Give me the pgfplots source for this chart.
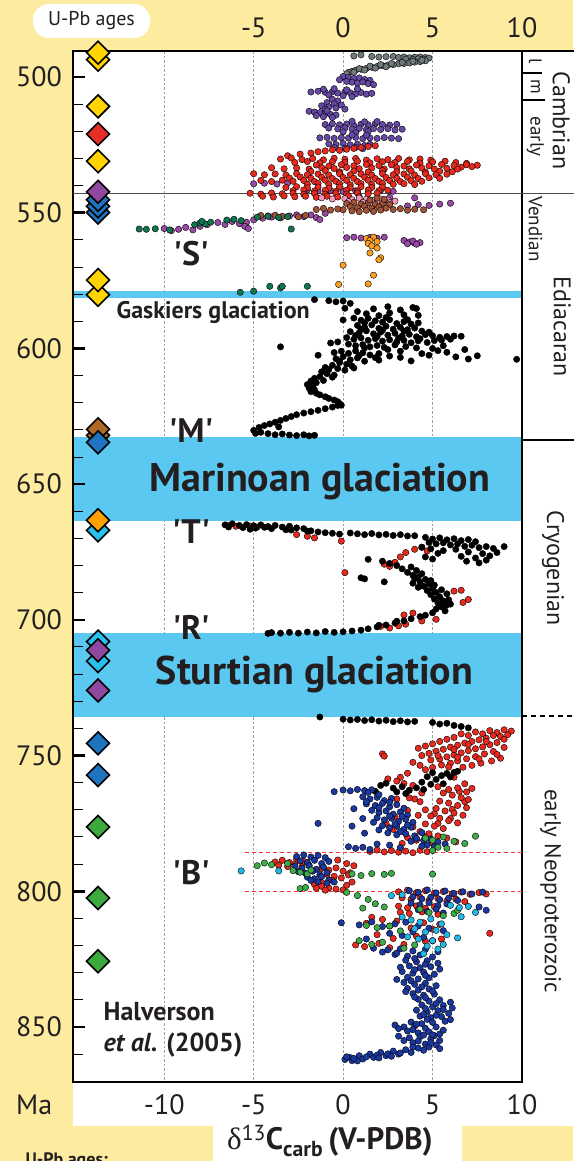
\documentclass[border=0pt]{standalone}
\usepackage{pgfplots}
\pgfplotsset{compat=1.18}
\usepackage{fontspec}
\setmainfont{PT Sans}[Ligatures=TeXOff]
\newfontfamily\greekserif{Liberation Serif}
\newcommand\fs[1]{\fontsize{#1}{#1}\selectfont}
\definecolor{bgyellow}{RGB}{253,236,160}
\definecolor{glac}{RGB}{90,200,240}
\definecolor{cgray}{RGB}{112,122,122}
\definecolor{cviolet}{RGB}{102,72,165}
\definecolor{cred}{RGB}{232,42,30}
\definecolor{cmag}{RGB}{152,72,165}
\definecolor{cpink}{RGB}{242,152,192}
\definecolor{cbrown}{RGB}{162,82,52}
\definecolor{cdgreen}{RGB}{16,118,78}
\definecolor{corange}{RGB}{250,160,30}
\definecolor{cblue}{RGB}{26,56,160}
\definecolor{cgreen}{RGB}{60,172,72}
\definecolor{ccyan}{RGB}{32,184,232}
\definecolor{dyellow}{RGB}{255,212,0}
\definecolor{dred}{RGB}{230,45,40}
\definecolor{dpurple}{RGB}{142,72,160}
\definecolor{dblue}{RGB}{30,116,192}
\definecolor{dcyan}{RGB}{40,192,236}
\definecolor{dbrown}{RGB}{176,104,40}
\definecolor{dorange}{RGB}{255,160,0}
\definecolor{dgreen}{RGB}{60,170,60}
\definecolor{txt}{RGB}{35,31,32}
\pgfplotsset{
 panel/.style={at={(73pt,-51pt)}, anchor=north west, scale only axis,
   width=449pt, height=1031pt, xmin=-15.1, xmax=10, ymin=490.4, ymax=870.3,
   y dir=reverse, clip=false},
 dots/.style={only marks, mark=*, mark size=3.2pt, mark options={draw=none, fill=#1}},
 dia/.style={only marks, mark=square*, mark size=8.1pt, mark options={rotate=45, fill=#1, draw=black, line width=1.6pt}},
}
\begin{document}
\begin{tikzpicture}[x=1pt,y=1pt]
\useasboundingbox (0,0) rectangle (573,-1161);
\fill[bgyellow] (0,0) rectangle (573,-1161);
\fill[white] (73,-51) rectangle (573,-1126);
\fill[white] (213,-1126) rectangle (462,-1161);
\fill[white, rounded corners=16pt] (33,-4) rectangle (150,-38);
\node[font=\fs{20}, text=txt] at (91.5,-21) {U-Pb ages};

% ---------- background axis: grid and glaciation bands ----------
\begin{axis}[panel, hide axis]
 \draw[gray!75, line width=0.8pt, dash pattern=on 2.5pt off 2pt] (axis cs:-10,490.4) -- (axis cs:-10,870.3);
 \draw[gray!75, line width=0.8pt, dash pattern=on 2.5pt off 2pt] (axis cs:-5,490.4) -- (axis cs:-5,870.3);
 \draw[gray!75, line width=0.8pt, dash pattern=on 2.5pt off 2pt] (axis cs:0,490.4) -- (axis cs:0,870.3);
 \draw[gray!75, line width=0.8pt, dash pattern=on 2.5pt off 2pt] (axis cs:5,490.4) -- (axis cs:5,870.3);
 \fill[glac] (axis cs:-15.1,578.9) rectangle (axis cs:10,581.3);
 \fill[glac] (axis cs:-15.1,632.6) rectangle (axis cs:10,663.6);
 \fill[glac] (axis cs:-15.1,704.9) rectangle (axis cs:10,735.8);
\end{axis}

% ---------- main axis ----------
\begin{axis}[panel,
 axis line style={line width=2.2pt, black},
 xtick=\empty,
 ytick={500,550,600,650,700,750,800,850},
 minor ytick={510,520,530,540,560,570,580,590,610,620,630,640,660,670,680,690,710,720,730,740,760,770,780,790,810,820,830,840,860},
 ytick pos=left, tick align=inside,
 major tick length=12pt, minor tick length=10pt,
 major tick style={line width=2.6pt, black},
 minor tick style={line width=1pt, black},
 yticklabel={\pgfmathparse{int(\tick)}\pgfmathresult},
 yticklabel style={font=\fs{28}, text=txt, inner sep=0pt, anchor=east, xshift=-11pt},
]
% red dashed lines
\draw[red!80, line width=1pt, dash pattern=on 4pt off 3pt] (axis cs:-5.5,785.6) -- (axis cs:10,785.6);
\draw[red!80, line width=1pt, dash pattern=on 4pt off 3pt] (axis cs:-5.5,800) -- (axis cs:10,800);

% gray (late / middle Cambrian)
\addplot[dots=cgray] coordinates {(0.6,492.2) (1.0,491.8) (1.6,492.4) (2.0,492.6) (2.4,492.5) (2.8,492.4) (3.1,492.8) (3.4,492.6) (3.7,492.9) (4.0,492.7) (4.3,492.6) (4.6,492.8) (4.8,493.0) (4.5,493.4) (4.2,493.3) (3.9,493.5) (3.5,493.4) (4.6,494.0) (4.3,494.3) (4.0,494.5) (3.7,494.8) (3.4,495.0) (3.1,495.1) (2.8,495.4) (2.5,495.6) (2.2,495.8) (1.9,496.1) (1.6,496.4) (1.3,496.8) (1.0,497.1) (0.7,497.5) (0.5,497.9) (0.3,498.3) (0.2,498.8) (0.9,496.9) (1.5,496.0) (2.1,495.4) (2.7,495.0) (3.3,494.6) (3.9,494.2) (4.4,493.8) (2.4,496.2) (1.8,496.7) (1.2,497.4) (0.6,498.2)};
% violet (Cambrian)
\addplot[dots=cviolet] coordinates {(0.0,499.8) (0.3,500.2) (0.6,500.5) (0.9,500.3) (1.2,500.9) (1.5,501.2) (-0.2,501.0) (0.2,501.6) (0.5,501.9) (0.8,502.2) (1.1,501.8) (1.4,502.4) (1.7,502.8) (-1.8,505.5) (-1.4,505.2) (-1.0,505.6) (-0.6,505.4) (-0.3,505.9) (0.1,505.5) (0.4,505.8) (0.7,506.2) (1.0,505.7) (1.3,506.3) (1.6,506.0) (-1.1,504.5) (-0.5,504.3) (0.2,504.7) (0.8,504.4) (-0.8,506.6) (0.0,506.9) (0.5,507.2) (-0.6,508.2) (-0.3,508.8) (-0.9,509.4) (-0.5,509.9) (-0.1,510.3) (-1.2,510.6) (-0.8,511.0) (-0.4,511.4) (0.1,511.8) (-1.0,511.9) (-1.9,512.6) (-1.6,512.9) (-1.3,513.1) (-1.0,513.5) (-0.7,513.8) (-0.4,514.0) (-1.5,514.2) (-1.1,514.6) (-0.6,514.9) (-0.9,512.4) (-1.0,517.5) (-0.6,517.2) (-0.2,517.6) (0.2,517.3) (0.6,517.8) (1.0,517.4) (1.4,517.6) (1.8,517.2) (2.2,517.5) (2.6,517.7) (3.0,517.4) (0.5,516.3) (1.2,516.5) (1.9,516.4) (-0.8,518.8) (-0.3,519.1) (0.1,518.7) (0.5,519.2) (0.9,518.9) (1.3,519.4) (1.7,519.0) (2.1,519.3) (2.5,519.0) (2.9,519.5) (3.3,519.2) (0.0,520.2) (0.7,520.5) (1.4,520.1) (-1.3,522.4) (-0.9,522.2) (-0.5,522.6) (-0.1,522.3) (0.3,522.5) (0.7,522.2) (1.1,522.7) (1.5,522.4) (1.9,522.6) (2.3,522.3) (2.7,522.5) (3.1,522.7) (0.5,521.3) (1.3,521.4) (-0.8,524.6) (-0.4,524.9) (0.0,524.5) (0.4,525.0) (0.8,524.7) (1.2,525.2) (1.5,524.8) (-0.5,526.0) (0.1,526.2) (0.7,525.9) (1.1,526.4)};
% magenta (latest Ediacaran)
\addplot[dots=cmag] coordinates {(-5.0,539.3) (-4.4,539.1) (-3.7,539.4) (-3.1,539.0) (-2.0,541.6) (-1.4,542.0) (-0.7,541.8) (0.0,542.2) (0.7,541.9) (1.4,542.3) (2.1,541.7) (2.8,542.1) (3.6,547.5) (4.2,547.0) (4.8,547.3) (5.4,546.8) (6.0,546.5) (4.0,544.5) (2.6,544.3) (-1.8,550.8) (-1.5,551.8) (-1.0,550.2) (-1.3,552.5) (-10.0,555.8) (-9.6,556.6) (-9.2,556.1) (-8.8,555.4) (-8.4,556.3) (-8.0,555.0) (-7.6,554.4) (-7.0,553.6) (-6.6,554.3) (-6.2,553.2) (-5.8,554.0) (-5.4,553.5) (-5.0,552.6) (-4.5,552.0) (-4.0,551.6) (-3.5,551.9) (-3.0,551.2) (-2.6,550.8) (-2.2,551.4) (-5.5,555.0) (-5.3,555.8) (0.2,559.2) (0.6,559.0) (1.0,559.3) (1.5,559.1) (1.9,559.4) (2.3,559.0) (3.4,560.2) (3.7,560.8) (4.0,561.2) (4.3,561.0) (3.9,560.4) (4.1,561.6) (3.6,561.4)};
% red (early Cambrian)
\addplot[dots=cred] coordinates {(-3.1,529.0) (-2.4,528.4) (-1.8,528.0) (-1.4,527.5) (-1.0,527.2) (-0.6,526.8) (-0.2,527.0) (0.2,526.6) (0.6,526.3) (1.0,526.0) (1.4,525.6) (1.8,525.3)
(-3.5,530.2) (-2.9,529.8) (-2.3,530.4) (-1.7,530.0) (-1.1,530.5) (-0.5,529.9) (0.1,530.3) (0.7,530.0) (1.3,530.6) (1.9,530.1) (2.5,530.4) (3.1,530.0) (3.7,530.5) (4.3,530.2) (4.9,530.6)
(-2.7,531.5) (-2.0,531.1) (-1.3,531.6) (-0.6,531.2) (0.1,531.4) (0.8,531.0) (1.5,531.6) (2.2,531.2) (2.9,531.5) (3.6,531.1) (4.3,531.7) (5.0,531.3) (5.7,531.0) (6.3,531.5) (6.9,531.8)
(-1.5,532.4) (-0.8,532.8) (-0.1,532.3) (0.6,532.7) (1.3,532.2) (2.0,532.6) (2.7,532.3) (3.4,532.8) (4.1,532.4) (4.8,532.7) (5.5,532.2) (6.2,532.6) (6.9,532.3) (7.5,532.5) (7.2,533.0) (6.6,533.2)
(-4.0,533.4) (-3.3,533.8) (-2.6,533.5) (-1.9,533.9) (-1.2,533.4) (-0.5,533.7) (0.2,533.3) (0.9,533.8) (1.6,533.5) (2.3,533.9) (3.0,533.4) (3.7,533.8) (4.4,533.5) (5.1,533.9) (5.8,533.6) (6.4,533.9)
(-1.8,534.8) (-1.0,534.5) (-0.2,534.9) (0.6,534.6) (1.4,535.0) (2.2,534.5) (3.0,534.9) (3.8,534.6) (4.6,535.0) (5.4,534.7) (6.1,534.9)
(-5.0,535.6) (-4.4,536.0) (-3.8,535.7) (-3.2,536.1) (-2.6,535.6) (-2.0,536.0) (-1.4,535.7) (-0.8,536.1) (-0.2,535.6) (0.4,536.0) (1.0,535.7) (1.6,536.1) (2.2,535.6) (2.8,536.0) (3.4,535.7) (4.0,536.1) (4.6,535.6) (5.2,536.0) (5.8,535.8)
(-3.0,537.2) (-2.4,536.8) (-1.8,537.3) (-1.2,536.9) (-0.6,537.4) (0.0,537.0) (0.6,537.3) (1.2,536.9) (1.8,537.4) (2.4,537.0) (3.0,537.3) (3.6,536.9) (4.2,537.4) (4.8,537.1) (5.4,537.3)
(-4.6,538.1) (-4.0,538.5) (-3.4,538.0) (-2.8,538.4) (-2.2,538.1) (-1.6,538.5) (-1.0,538.0) (-0.4,538.4) (0.2,538.1) (0.8,538.5) (1.4,538.0) (2.0,538.4) (2.6,538.1) (3.2,538.5) (3.8,538.2) (4.4,538.4)
(-2.0,539.5) (-1.4,539.2) (-0.8,539.6) (-0.2,539.3) (0.4,539.7) (1.0,539.3) (1.6,539.6) (2.2,539.2) (2.8,539.5) (3.4,539.3) (4.0,539.6)
(-3.2,540.7) (-2.6,540.4) (-2.0,540.8) (-1.4,540.5) (-0.8,540.9) (-0.2,540.5) (0.4,540.8) (1.0,540.4) (1.6,540.7) (2.2,540.5)
(-2.8,541.9) (-2.2,541.6) (-1.6,542.0) (-1.0,541.7) (-0.4,542.1) (0.2,541.7) (0.8,542.0) (1.4,541.6) (2.0,541.9) (2.5,541.7)
(-5.2,542.8) (-4.6,543.1) (-4.0,542.7) (-3.4,543.0) (-2.8,542.8) (-2.2,543.2) (-1.6,542.9) (-1.0,543.2) (-0.4,542.8) (0.2,543.1) (0.8,542.7) (1.4,543.0) (1.9,542.8)
(-4.5,543.9) (-3.9,544.2) (-3.3,543.8) (-2.7,544.1) (-2.1,543.9) (-1.5,544.3) (-0.9,543.9) (-0.3,544.2) (0.3,543.8) (0.9,544.1)};
% pink
\addplot[dots=cpink] coordinates {(0.1,544.8) (0.5,545.2) (0.9,544.6) (1.3,545.0) (1.7,545.4) (2.1,544.9) (2.5,545.3) (2.9,545.7) (0.3,545.9) (1.1,546.2) (1.9,546.0) (2.6,546.3) (-1.2,544.5) (-0.6,544.9)};
% brown
\addplot[dots=cbrown] coordinates {(0.2,546.6) (0.6,546.2) (1.0,546.8) (1.4,546.4) (1.8,547.0) (2.2,546.5) (2.6,546.9) (0.4,547.8) (0.8,548.2) (1.2,547.6) (1.6,548.4) (2.0,547.9) (2.4,548.3) (0.0,548.9) (0.5,549.3) (0.9,549.6) (1.3,549.1) (1.7,549.5) (2.1,549.0) (1.5,545.3) (1.9,544.6) (2.3,545.1) (-1.5,548.8) (-1.1,548.4) (-0.7,549.0) (-0.3,548.6) (2.8,548.8) (3.2,548.5) (3.6,549.1) (4.0,548.7) (4.5,548.9) (-4.6,551.0) (-4.2,551.2) (-3.8,550.9) (-3.4,551.3) (-2.5,551.5) (-2.1,551.0)};
% dark green
\addplot[dots=cdgreen] coordinates {(-11.4,556.0) (-11.0,556.1) (-10.5,555.9) (-9.7,556.3) (-8.3,554.4) (-8.0,553.8) (-7.7,554.1) (-7.4,553.5) (-7.9,553.2) (-6.5,552.7) (-6.1,552.4) (-5.7,552.9) (-4.8,551.6) (-4.2,551.3) (-3.6,551.7) (-3.1,551.4) (-2.9,556.0) (-5.75,579.3) (-5.0,578.9) (-4.1,577.1) (-3.5,577.7) (-3.4,577.1) (-2.0,577.1)};
% orange
\addplot[dots=corange] coordinates {(1.3,559.5) (1.7,559.0) (1.5,560.2) (1.9,560.6) (1.4,561.3) (1.6,562.2) (1.9,563.0) (1.5,564.8) (2.1,566.6) (2.0,567.3) (0.0,569.3) (1.7,573.0) (1.4,576.2) (-0.25,576.4)};
% black (Ediacaran)
\addplot[dots=black] coordinates {(-1.6,582.0) (-0.8,582.4) (-0.4,582.8) (0.0,582.5) (0.4,583.4) (0.1,585.2) (1.7,585.4) (2.5,584.6) (3.2,585.8) (3.9,584.9) (4.1,585.3) (0.8,586.4) (1.3,587.2) (2.0,587.9) (2.6,586.9) (3.4,587.6) (4.2,587.8) (0.0,589.5)
(0.6,588.8) (1.0,589.6) (1.4,588.9) (1.8,589.8) (2.2,590.3) (2.6,589.4) (3.0,590.8) (3.4,590.1) (3.8,591.0) (4.2,590.6)
(0.8,591.5) (1.2,592.2) (1.6,591.3) (2.0,592.6) (2.4,591.8) (2.8,592.9) (3.2,592.2) (3.6,593.1) (4.0,592.5) (4.4,593.6)
(0.4,593.8) (0.9,594.2) (1.3,593.5) (1.7,594.6) (2.1,594.0) (2.5,595.1) (2.9,594.4) (3.3,595.4) (3.7,594.8) (4.1,595.7) (4.6,594.9) (5.0,595.3) (5.4,595.9) (5.8,595.6) (6.2,595.4) (6.6,595.5)
(0.2,596.0) (0.6,596.6) (1.0,596.1) (1.4,597.0) (1.8,596.4) (2.2,597.3) (2.6,596.8) (3.0,597.6) (3.4,597.0) (3.8,597.9) (4.2,597.2) (4.7,597.8) (5.1,597.1) (5.5,596.9)
(-0.3,597.6) (-0.7,598.0) (0.3,598.4) (0.7,599.0) (1.1,598.6) (1.5,599.4) (1.9,598.9) (2.3,599.6) (2.9,598.7) (3.5,599.3) (4.1,599.8) (5.0,600.0) (5.3,600.8) (5.8,601.4) (6.3,603.1) (7.0,603.9) (7.5,602.7) (9.7,604.0) (-3.5,599.4) (-1.4,602.5)
(-0.5,601.5) (-0.1,601.0) (0.3,601.8) (0.7,600.9) (1.1,601.6) (1.5,602.4) (2.0,601.9) (2.6,602.8) (3.2,603.3) (3.8,604.6) (0.0,603.0) (-0.4,603.8) (0.4,604.2) (0.8,603.5) (1.2,604.7) (-0.2,605.2) (0.2,605.8) (0.5,606.5) (-0.6,606.2) (-1.0,607.0) (-0.8,607.8) (-0.3,607.4) (0.1,608.0) (-1.2,608.6) (-0.9,609.3) (-0.5,609.8) (-1.3,610.4) (-1.6,611.0)
(1.2,590.5) (2.4,588.6) (3.6,589.4) (1.0,592.9) (2.2,593.3) (3.4,593.6) (4.8,594.0) (0.7,595.2) (1.9,595.6) (3.1,596.2) (4.3,596.4) (6.0,596.6) (1.2,599.8) (2.5,600.4) (3.2,601.0) (4.4,601.9) (0.9,602.6) (1.8,603.4) (-0.2,604.6) (0.6,607.2) (-0.6,610.6) (-1.1,611.8) (2.0,604.3) (4.8,602.5) (5.6,599.0) (6.8,600.4)
(-1.8,612.0) (-1.5,612.6) (-2.0,613.3) (-1.7,613.9) (-1.9,614.6) (-1.6,615.2) (-1.8,615.9) (-1.5,616.5) (-1.3,617.1)
(-1.0,617.8) (-0.8,618.4) (-0.5,619.0) (-0.3,619.6) (-0.2,620.3) (-0.3,621.0) (-0.6,621.6) (-1.0,622.2) (-0.1,620.9)
(-1.4,622.8) (-1.8,623.3) (-2.2,623.8) (-2.6,624.4) (-2.9,625.1) (-3.2,625.8) (-3.5,626.5) (-3.8,627.2) (-4.1,627.8) (-4.4,628.4) (-3.6,628.9) (-4.7,629.1) (-5.0,630.2) (-4.6,630.9) (-4.2,631.4) (-3.8,631.8) (-3.4,631.5) (-3.0,631.9) (-2.6,632.1) (-2.2,631.8) (-1.9,632.2) (-1.6,632.0) (-4.9,631.3)};
% red (Cryogenian)
\addplot[dots=cred] coordinates {(-6.5,665.1) (-6.0,665.5) (-5.2,665.4) (-4.8,665.8) (-2.6,668.6) (-2.0,669.2) (-1.6,669.8) (-0.1,671.0) (0.1,682.6) (2.3,679.5) (2.6,680.3) (2.9,678.8) (3.2,676.8) (3.5,675.2) (4.0,674.0) (4.4,673.3) (4.7,674.6) (6.2,689.4) (6.6,689.1) (7.0,692.5) (6.7,693.6) (3.4,698.2) (3.9,697.5) (4.4,700.4) (5.2,699.8) (2.1,702.4) (2.6,703.0) (3.1,702.2) (3.5,701.6)};
% black (Cryogenian)
\addplot[dots=black] coordinates {(-6.6,665.0) (-6.2,664.6) (-5.8,665.2) (-5.4,664.9) (-5.0,665.3) (-4.6,665.0) (-4.2,665.6) (-3.8,665.2) (-3.4,665.8) (-3.0,665.5) (-2.6,666.1) (-2.2,666.4) (-1.8,667.2) (-1.4,667.6) (-1.0,667.9) (-0.6,668.1) (-0.2,668.4) (0.4,668.0) (0.8,668.3) (1.2,668.6) (1.6,668.2) (2.0,668.7) (2.4,668.5) (2.8,668.9) (3.2,668.6) (3.6,669.1) (4.0,669.0) (-5.6,666.0) (-4.9,666.2) (-4.0,666.4) (-3.2,666.8) (-6.4,665.8) (-5.2,666.6) (-4.4,665.9) (-2.9,666.9) (-2.0,667.3)
(4.6,669.6) (5.0,670.2) (5.4,669.8) (5.8,670.5) (6.2,670.1) (6.6,670.8) (7.0,670.4) (7.4,671.2) (4.8,671.5) (5.2,672.0) (5.6,671.6) (6.0,672.4) (6.4,672.0) (6.8,672.9) (7.2,672.5) (7.6,673.4) (8.0,673.0) (8.4,673.7) (9.0,673.0) (4.4,673.2) (4.9,673.8) (5.6,674.5) (6.3,674.0) (7.0,675.0) (7.8,675.6) (8.2,676.4) (8.6,675.2) (5.3,675.5) (6.6,676.6) (7.4,677.2) (8.0,678.0) (7.6,679.0) (6.9,678.4) (4.6,676.8) (5.0,677.6)
(1.4,677.7) (2.2,678.4) (2.6,679.2) (3.0,680.0) (3.3,681.2) (1.0,684.5) (1.2,684.9) (2.3,686.0) (3.6,682.5) (3.9,683.6)
(3.8,680.5) (4.1,681.8) (4.4,683.0) (4.2,684.2) (4.6,685.1) (4.3,686.0) (4.8,686.8) (4.5,687.6) (5.0,688.4) (4.7,689.2) (5.2,689.9) (4.9,690.7) (5.4,691.5) (5.1,692.3) (5.6,693.0) (5.3,693.8) (5.8,694.5) (5.5,695.2) (5.2,696.0) (5.7,696.7) (5.0,697.4) (4.6,698.3) (4.9,685.5) (5.1,687.2) (5.5,688.9) (5.8,690.4) (5.9,692.6) (6.0,694.2) (4.0,684.8) (3.9,686.5) (4.2,688.0)
(4.3,698.8) (3.8,699.6) (3.4,700.4) (2.9,701.2) (2.4,701.9) (1.9,702.6) (1.4,703.3) (1.0,703.8) (0.5,704.1) (0.0,704.4) (-0.5,704.6) (-1.0,704.3) (-1.5,704.8) (-2.0,704.5) (-2.5,704.9) (-3.0,704.6) (-3.5,704.9) (-4.0,704.7) (-4.2,705.0) (3.0,700.5) (2.0,702.0)};
% red (early Neoproterozoic)
\addplot[dots=cred] coordinates {(9.4,741.0) (9.0,740.5) (8.6,741.5) (8.2,740.8) (7.8,742.0) (7.4,741.3) (7.0,742.6) (6.6,742.0) (6.2,743.3) (5.8,744.0) (5.4,744.8) (5.0,745.7) (4.6,746.5) (4.2,747.3) (9.2,742.3) (8.8,743.0) (8.4,742.6) (8.0,743.6) (7.6,744.2) (7.2,744.8) (6.8,745.4) (6.4,746.2) (6.0,746.9) (5.6,747.7) (5.2,748.4) (4.8,749.2) (4.4,750.0) (8.6,745.2) (8.2,746.0) (7.8,746.8) (7.4,747.5) (7.0,748.2) (6.6,749.0) (6.2,749.8) (5.8,750.5) (5.4,751.3) (9.0,747.0) (8.4,748.5) (7.9,749.4) (7.4,750.4) (6.9,751.2) (6.4,752.0) (6.0,752.8) (5.5,753.5) (8.8,751.0) (8.3,752.0) (7.7,752.8) (7.2,753.6) (6.7,754.3) (2.2,749.4) (2.3,750.2) (3.9,752.5) (4.3,753.6) (4.6,755.2) (5.0,754.4) (3.6,756.5) (3.2,758.0)
(9.0,744.0) (8.0,744.8) (7.0,746.0) (6.2,747.8) (5.3,750.0) (4.9,751.6) (8.6,749.6) (7.6,751.2) (6.4,750.6) (5.9,754.2) (6.2,758.0) (6.8,760.4) (6.5,763.2) (6.8,767.0) (6.1,769.8) (6.0,773.2) (5.1,771.4) (5.3,775.0) (4.6,779.8) (5.0,782.2) (4.4,763.8) (4.0,766.0) (4.2,772.0) (3.6,770.2)
(2.5,758.6) (3.0,759.4) (3.4,760.3) (3.9,761.0) (5.3,761.5) (5.9,762.5) (6.4,761.9) (6.9,763.4) (7.2,762.1) (5.6,763.8) (6.1,764.6) (6.6,765.5) (7.0,766.2) (5.4,766.8) (5.9,767.5) (6.4,768.4) (6.9,769.2) (5.2,769.5) (5.7,770.4) (6.2,771.2) (6.7,772.0) (4.9,772.3) (5.4,773.1) (5.9,774.0) (6.4,774.8) (4.6,775.2) (5.1,776.0) (5.6,776.9) (4.3,778.0) (4.8,778.8) (5.3,779.6) (5.8,780.4) (3.6,780.2) (4.1,781.2) (6.3,781.8) (3.3,782.4) (2.8,777.2) (2.4,775.0) (2.9,772.6) (3.7,765.6) (4.3,767.0) (4.6,770.0) (3.9,776.3) (3.4,778.2) (3.0,766.0)
(1.5,785.3) (1.9,784.8) (2.3,785.5) (2.7,785.0) (3.1,785.6) (3.5,785.2) (3.9,785.8) (4.3,784.9) (4.7,785.4)
(-3.8,789.2) (-3.4,788.6) (-3.0,789.4) (-2.6,788.2) (-2.2,789.0) (-3.6,790.4) (-3.1,790.9) (-2.7,790.1) (-2.3,791.0) (-1.9,790.5) (-1.2,791.6) (-0.8,792.2) (-0.4,791.4) (0.0,792.6) (0.4,793.2) (-0.9,793.8) (-0.5,794.5) (-0.1,795.1) (0.3,794.0) (-0.6,796.0) (-1.2,796.8) (-1.6,797.5) (-1.2,798.2) (-0.8,798.8) (-0.4,799.2) (0.0,799.5) (-1.0,799.6) (-1.5,798.9) (0.5,796.6) (0.2,797.8) (-0.3,788.5) (0.2,789.8) (0.6,790.6)
(3.1,800.2) (3.6,799.6) (4.1,800.5) (4.6,799.8) (5.1,800.7) (5.6,800.1) (6.1,800.9) (6.6,800.3) (7.1,801.1) (7.6,800.5) (8.0,801.0) (3.3,802.4) (3.8,803.0) (4.3,802.2) (4.8,803.4) (5.3,802.7) (5.8,803.6) (6.3,802.9) (6.8,803.8) (3.1,805.5) (3.6,806.1) (4.1,805.4) (4.6,806.3) (5.1,805.7) (3.2,807.8) (3.7,808.2) (4.4,807.6) (5.3,808.5) (1.6,809.6) (2.2,810.4) (1.3,811.8) (2.6,812.8) (3.0,811.0) (3.8,813.5) (4.5,811.6) (5.0,814.0) (5.4,812.2) (1.9,816.0) (2.8,817.4) (4.1,816.6) (8.2,815.5) (0.7,819.8) (1.2,820.4) (2.0,819.2) (2.6,820.8) (3.4,819.6) (4.6,818.4) (5.5,817.6)};
% black (early Neoproterozoic)
\addplot[dots=black] coordinates {(-1.3,735.8) (0.0,736.6) (0.4,736.9) (0.8,736.7) (1.2,737.1) (1.6,736.8) (2.0,737.3) (2.4,737.0) (2.8,737.5) (3.2,737.2) (3.6,737.6) (4.0,737.4) (5.0,737.8) (5.4,738.4) (5.8,738.1) (6.2,738.9) (6.6,739.3) (7.0,739.8)
(2.1,761.0) (2.4,760.2) (2.8,762.0) (3.3,761.5) (3.7,762.8) (4.1,761.9) (4.5,762.5) (4.9,760.6) (5.2,758.8) (5.5,757.4) (5.8,756.6) (6.2,756.2) (6.4,755.8) (4.7,757.8) (5.0,756.3) (3.0,763.4) (3.5,764.0) (1.8,763.2) (4.4,759.8) (5.6,760.4) (6.0,757.9)};
% blue
\addplot[dots=cblue] coordinates {(-0.5,763.3) (0.0,762.7) (0.4,763.0) (0.8,762.5) (1.2,762.9) (1.6,762.6) (1.1,765.2) (1.5,766.0) (1.9,765.4) (2.3,766.6) (2.7,765.8) (1.3,767.8) (1.8,768.4) (2.2,767.6) (2.6,768.9) (3.0,768.1) (1.6,770.2) (2.0,771.0) (2.4,770.4) (2.8,771.6) (3.2,770.8) (3.6,771.9) (1.9,772.9) (2.3,773.7) (2.7,773.1) (3.1,774.3) (3.5,773.5) (3.9,774.6) (2.2,775.8) (2.6,776.6) (3.0,776.0) (3.4,777.2) (3.8,776.4) (2.5,778.5) (3.0,779.2) (3.5,778.8) (4.0,779.6) (-1.4,775.0) (0.5,776.0) (4.1,780.5) (4.5,781.2) (4.9,780.8) (5.3,781.9) (5.7,782.6) (4.7,782.9) (5.1,783.6) (0.3,783.6) (0.7,784.2) (1.1,783.8) (1.5,784.6) (1.3,767.0) (0.6,769.6) (1.1,773.2) (1.2,778.6)
(1.4,763.6) (2.0,764.4) (2.6,767.2) (2.0,769.2) (3.4,769.4) (2.6,772.3) (3.3,772.4) (1.7,774.6) (2.9,775.2) (3.6,775.6) (2.0,777.4) (3.2,778.0) (4.4,778.4) (3.8,781.6) (4.4,783.4) (1.9,782.6) (2.6,783.0) (3.2,783.9)
(-2.6,787.2) (-2.2,786.6) (-1.8,787.4) (-1.4,786.8) (-1.0,787.6) (-2.4,788.8) (-2.0,789.4) (-1.6,788.6) (-1.2,789.8) (-0.8,789.0) (-2.7,790.8) (-2.3,791.5) (-1.9,790.6) (-1.5,791.9) (-1.1,791.1) (-2.5,792.8) (-2.1,793.4) (-1.7,792.6) (-1.3,793.9) (-0.9,793.1) (-2.0,794.8) (-1.6,795.4) (-1.2,794.6) (-0.8,795.9) (-1.4,796.5) (-0.9,797.0) (-0.5,796.6) (-1.8,796.0)
(3.7,799.8) (4.2,800.4) (4.7,799.5) (5.2,800.6) (5.7,799.9) (6.2,800.8) (6.7,800.2) (7.2,801.0) (7.8,800.3) (3.9,802.0) (4.4,802.8) (4.9,802.2) (5.4,803.1) (5.9,802.5) (6.4,803.4) (3.8,804.4) (4.3,805.0) (4.8,804.2) (5.3,805.3) (5.8,804.7) (4.2,806.8) (4.7,807.4) (5.2,806.6) (5.6,808.0) (8.0,807.0) (7.6,805.8) (-0.1,811.6) (0.9,812.4) (1.6,811.3) (2.2,813.0) (2.9,812.0) (3.5,811.4) (4.2,812.8) (4.8,813.6) (5.6,814.5) (2.6,815.5) (3.3,816.3) (3.9,815.0) (4.5,817.0) (5.0,818.2) (1.3,817.6)
(1.7,821.0) (2.5,821.6) (3.2,821.2) (3.9,822.0) (4.6,821.4) (5.3,822.3) (2.9,823.3) (3.6,823.9) (4.3,823.5) (5.0,824.2) (3.5,825.4) (4.1,826.0) (4.7,825.6) (5.3,826.5) (3.7,827.5) (4.3,828.2) (4.9,827.8) (5.4,828.7) (3.3,829.6) (3.9,830.2) (4.5,829.8) (5.1,830.6) (3.6,831.7) (4.2,832.3) (4.8,831.9) (3.4,833.6) (4.0,834.3) (4.6,833.9) (5.2,834.8) (3.6,835.8) (4.2,836.4) (4.8,836.0) (3.9,837.7) (4.5,838.3) (5.1,837.9) (4.2,839.8) (4.8,840.5) (5.4,840.0) (6.0,840.9) (4.4,841.9) (5.0,842.6) (5.6,842.1) (6.1,843.0) (4.1,843.8) (4.7,844.5) (5.3,844.0) (5.9,845.0) (4.3,846.0) (4.9,846.6) (5.5,846.2) (6.0,847.3) (3.8,848.2) (4.4,848.8) (5.0,848.3) (2.9,849.3) (3.4,850.0) (4.0,849.6) (4.6,850.5) (5.2,850.0) (3.6,851.5) (4.2,852.2) (4.8,851.8) (5.4,852.6) (3.1,853.4) (3.7,854.0) (4.3,853.6) (4.9,854.4) (5.4,855.0) (3.9,855.8) (4.6,856.3) (5.2,856.6) (4.8,857.4) (5.4,858.0) (4.2,857.8) (3.5,858.4) (2.8,858.9) (2.1,859.4) (1.5,860.0) (0.9,860.6) (0.4,861.3) (0.1,862.0) (0.5,862.4) (1.1,861.8) (1.7,861.2) (2.4,860.6) (3.1,860.0) (3.8,859.4) (0.2,861.0) (0.8,862.5)
(2.2,822.4) (3.0,822.8) (4.0,824.8) (4.6,826.9) (3.2,828.0) (4.0,828.9) (4.6,831.0) (3.0,832.5) (3.8,833.0) (4.4,835.2) (5.0,836.8) (3.5,837.0) (4.0,839.0) (4.6,839.2) (5.2,841.4) (4.6,843.2) (5.6,843.6) (4.5,845.4) (5.2,845.7) (5.7,847.9) (4.7,847.2) (4.1,849.0) (3.1,850.6) (3.9,851.0) (4.5,853.0) (5.1,853.2) (3.4,855.0) (4.2,855.2) (4.9,855.8) (3.9,857.4) (3.2,859.6) (2.5,859.9) (1.9,860.4) (1.3,861.0) (0.6,861.6) (2.0,861.4) (2.7,860.8) (4.5,858.6) (5.0,852.9) (5.6,851.2)};
% green
\addplot[dots=cgreen] coordinates {(4.6,780.4) (5.0,781.2) (5.6,780.0) (6.2,781.6) (6.8,782.4) (7.4,779.7) (5.3,783.8) (5.0,785.0) (5.8,784.2) (-4.8,790.6) (-4.4,789.6) (-4.0,790.2) (-3.1,789.8) (-2.8,792.4) (-2.4,793.0) (-2.0,793.6) (-1.8,792.2) (-2.4,799.0) (-2.1,798.6) (0.5,793.6) (1.0,794.2) (1.6,793.5) (2.3,793.8) (2.7,793.4) (5.0,793.7) (0.2,800.4) (0.8,801.6) (1.4,803.0) (1.8,804.6) (2.3,805.8) (1.1,806.2) (1.3,812.6) (1.9,813.4) (2.6,812.8) (3.2,814.6) (4.3,806.6) (4.8,807.8) (5.6,809.0) (6.2,808.2) (6.4,807.0) (0.9,818.2) (1.6,819.6) (2.2,818.8) (4.0,819.8) (3.4,821.0)};
% cyan
\addplot[dots=ccyan] coordinates {(-5.7,792.5) (-3.6,792.5) (2.7,801.6) (3.3,801.3) (6.0,805.2) (6.5,806.0) (7.0,805.6) (7.4,807.8) (6.6,809.4) (3.3,809.5) (3.8,810.6) (4.3,811.4) (4.9,810.2) (5.5,812.0) (4.0,813.8) (4.6,815.0) (5.2,814.4) (5.8,816.0) (3.6,816.8) (4.2,817.6) (5.0,818.2) (6.4,817.2) (4.7,820.2) (5.6,819.6) (5.3,821.3) (4.5,823.0)};

% Cambrian / Ediacaran boundary line
\draw[black!70, line width=1.4pt] (axis cs:-15.1,543) -- (axis cs:13,543);

% U-Pb age diamonds
\addplot[dia=dyellow] coordinates {(-13.7,493.6)};
\addplot[dia=dyellow] coordinates {(-13.7,491.0)};
\addplot[dia=dyellow] coordinates {(-13.7,510.8)};
\addplot[dia=dred] coordinates {(-13.7,521.0)};
\addplot[dia=dyellow] coordinates {(-13.7,531.0)};
\addplot[dia=dblue] coordinates {(-13.7,549.9)};
\addplot[dia=dblue] coordinates {(-13.7,547.6)};
\addplot[dia=dblue] coordinates {(-13.7,545.2)};
\addplot[dia=dpurple] coordinates {(-13.7,542.3)};
\addplot[dia=dyellow] coordinates {(-13.7,580.2)};
\addplot[dia=dyellow] coordinates {(-13.7,574.8)};
\addplot[dia=dbrown] coordinates {(-13.7,632.0)};
\addplot[dia=dbrown] coordinates {(-13.7,629.8)};
\addplot[dia=dblue] coordinates {(-13.7,634.6)};
\addplot[dia=dcyan] coordinates {(-13.7,667.0)};
\addplot[dia=dorange] coordinates {(-13.7,663.3)};
\addplot[dia=dcyan] coordinates {(-13.7,708.0)};
\addplot[dia=dcyan] coordinates {(-13.7,715.2)};
\addplot[dia=dpurple] coordinates {(-13.7,711.2)};
\addplot[dia=dpurple] coordinates {(-13.7,726.0)};
\addplot[dia=dblue] coordinates {(-13.7,745.5)};
\addplot[dia=dblue] coordinates {(-13.7,757.2)};
\addplot[dia=dgreen] coordinates {(-13.7,776.3)};
\addplot[dia=dgreen] coordinates {(-13.7,802.5)};
\addplot[dia=dgreen] coordinates {(-13.7,825.8)};

% annotations
\node[font=\fs{34}\bfseries, text=txt] at (axis cs:-8.5,565) {'S'};
\node[font=\fs{24}\bfseries, text=txt] at (axis cs:-7.26,586.9) {Gaskiers glaciation};
\node[font=\fs{34}\bfseries, text=txt] at (axis cs:-8.5,630.4) {'M'};
\node[font=\fs{40}\bfseries, text=txt] at (axis cs:-1.3,649) {Marinoan glaciation};
\node[font=\fs{34}\bfseries, text=txt] at (axis cs:-8.5,667.4) {'T'};
\node[font=\fs{34}\bfseries, text=txt] at (axis cs:-8.5,702.7) {'R'};
\node[font=\fs{40}\bfseries, text=txt] at (axis cs:-1.6,720.3) {Sturtian glaciation};
\node[font=\fs{34}\bfseries, text=txt] at (axis cs:-8.5,793) {'B'};
\node[font=\fs{26}\bfseries, text=txt, anchor=west, inner sep=0pt] at (axis cs:-13.4,844.2) {Halverson};
\node[font=\fs{26}\bfseries, text=txt, anchor=west, inner sep=0pt] at (axis cs:-13.4,856.8) {\textit{et al.} (2005)};

% x tick labels (top and bottom)
\node[font=\fs{28}, text=txt, yshift=23pt] at (axis cs:-5,490.4) {-5};
\node[font=\fs{28}, text=txt, yshift=23pt] at (axis cs:0,490.4) {0};
\node[font=\fs{28}, text=txt, yshift=23pt] at (axis cs:5,490.4) {5};
\node[font=\fs{28}, text=txt, yshift=23pt] at (axis cs:10,490.4) {10};
\node[font=\fs{28}, text=txt, yshift=-23pt] at (axis cs:-10,870.3) {-10};
\node[font=\fs{28}, text=txt, yshift=-23pt] at (axis cs:-5,870.3) {-5};
\node[font=\fs{28}, text=txt, yshift=-23pt] at (axis cs:0,870.3) {0};
\node[font=\fs{28}, text=txt, yshift=-23pt] at (axis cs:5,870.3) {5};
\node[font=\fs{28}, text=txt, yshift=-23pt] at (axis cs:10,870.3) {10};
\node[font=\fs{28}, text=txt, yshift=-23pt] at (axis cs:-17.27,870.3) {Ma};

% period panel
\draw[black, line width=2.2pt] (axis cs:10,490.4) -- (axis cs:13,490.4);
\draw[black, line width=2pt] (axis cs:10,498.5) -- (axis cs:11.1,498.5);
\draw[black, line width=2pt] (axis cs:10,508.5) -- (axis cs:11.3,508.5);
\draw[black, line width=1.8pt] (axis cs:10,633.8) -- (axis cs:13,633.8);
\draw[black, line width=1.8pt, dash pattern=on 5pt off 4pt] (axis cs:10,735.5) -- (axis cs:13,735.5);
\node[font=\fs{18}, text=txt, rotate=-90] at (axis cs:10.75,494.3) {l};
\node[font=\fs{18}, text=txt, rotate=-90] at (axis cs:10.75,503.5) {m};
\node[font=\fs{19}, text=txt, rotate=-90] at (axis cs:10.75,522) {early};
\node[font=\fs{24}, text=txt, rotate=-90] at (axis cs:12.2,516) {Cambrian};
\node[font=\fs{19}, text=txt, rotate=-90] at (axis cs:10.75,556) {Vendian};
\node[font=\fs{24}, text=txt, rotate=-90] at (axis cs:12.25,592) {Ediacaran};
\node[font=\fs{24}, text=txt, rotate=-90] at (axis cs:11.74,681) {Cryogenian};
\node[font=\fs{23}, text=txt, rotate=-90] at (axis cs:11.6,800) {early Neoproterozoic};
\end{axis}

% x axis title and bottom caption
\node[font=\fs{31}, text=txt] at (330,-1141) {{\greekserif δ}\textsuperscript{13}\textbf{C}\textsubscript{\textbf{carb}}\,\textbf{(V-PDB)}};
\node[font=\fs{18}\bfseries, text=txt, anchor=north west] at (22,-1149) {U-Pb ages:};
\end{tikzpicture}
\end{document}
